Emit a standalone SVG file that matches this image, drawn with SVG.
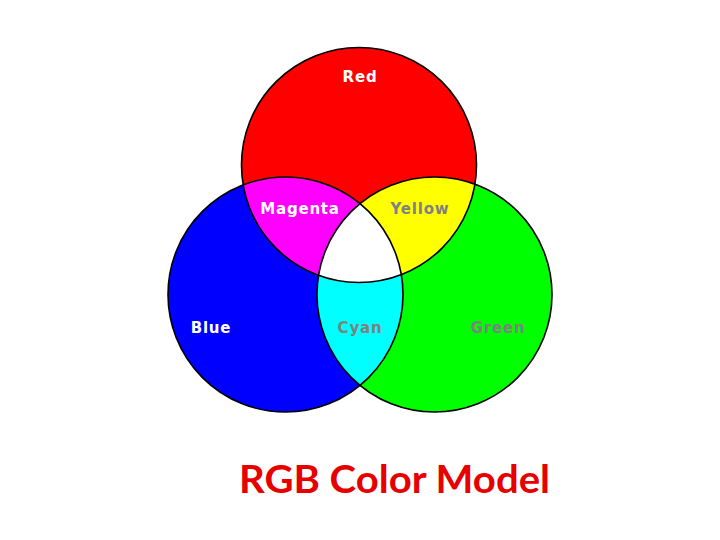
<svg xmlns="http://www.w3.org/2000/svg" width="720" height="540" viewBox="0 0 720 540">
  <style>
    .lbl { font-family: "DejaVu Sans", "Liberation Sans", sans-serif; font-weight: bold; font-size: 15px; letter-spacing: 0.8px; text-anchor: middle; }
    .w { fill: #ffffff; }
    .g { fill: #808080; }
    .ring { fill: none; stroke: #000000; stroke-width: 1.6; }
    .title { font-family: Lato, "Open Sans", "Liberation Sans", sans-serif; font-weight: bold; font-size: 39px; fill: #e60000; }
  </style>
  <defs>
    <clipPath id="cR"><circle cx="359" cy="165" r="117.5"/></clipPath>
    <clipPath id="cB"><circle cx="285.5" cy="294.5" r="117.5"/></clipPath>
    <clipPath id="cG"><circle cx="434.5" cy="294.5" r="117.5"/></clipPath>
  </defs>
  <rect width="720" height="540" fill="#ffffff"/>
  <g id="red"><circle cx="359" cy="165" r="117.5" fill="#ff0000"/></g>
  <g id="blue"><circle cx="285.5" cy="294.5" r="117.5" fill="#0000ff"/></g>
  <g id="green"><circle cx="434.5" cy="294.5" r="117.5" fill="#00ff00"/></g>
  <g id="magenta" clip-path="url(#cR)"><circle cx="285.5" cy="294.5" r="117.5" fill="#ff00ff"/></g>
  <g id="yellow" clip-path="url(#cR)"><circle cx="434.5" cy="294.5" r="117.5" fill="#ffff00"/></g>
  <g id="cyan" clip-path="url(#cB)"><circle cx="434.5" cy="294.5" r="117.5" fill="#00ffff"/></g>
  <g id="white" clip-path="url(#cR)"><g clip-path="url(#cB)"><circle cx="434.5" cy="294.5" r="117.5" fill="#ffffff"/></g></g>
  <g id="outlines">
    <circle class="ring" cx="359" cy="165" r="117.5"/>
    <circle class="ring" cx="285.5" cy="294.5" r="117.5"/>
    <circle class="ring" cx="434.5" cy="294.5" r="117.5"/>
  </g>
  <g id="labels">
    <text class="lbl w" x="360" y="82">Red</text>
    <text class="lbl w" x="300" y="214">Magenta</text>
    <text class="lbl g" x="420" y="214">Yellow</text>
    <text class="lbl w" x="211" y="333">Blue</text>
    <text class="lbl g" x="360" y="333">Cyan</text>
    <text class="lbl g" x="498" y="333">Green</text>
  </g>
  <text class="title" x="239" y="493" textLength="311" lengthAdjust="spacingAndGlyphs">RGB Color Model</text>
</svg>
